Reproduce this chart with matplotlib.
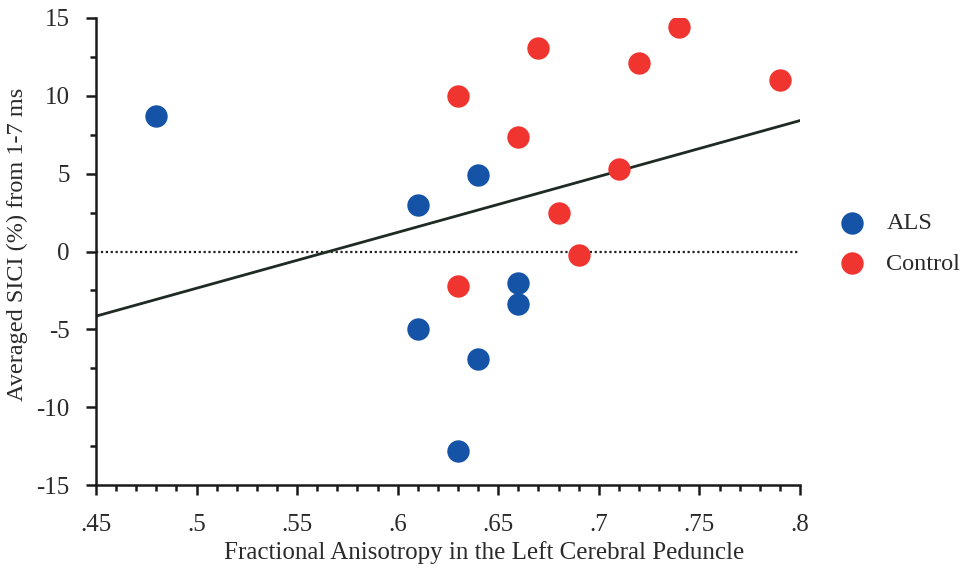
import numpy as np
import matplotlib.pyplot as plt
from matplotlib.ticker import MultipleLocator, FuncFormatter

plt.rcParams["font.family"] = ["Liberation Serif", "DejaVu Serif"]
plt.rcParams["axes.unicode_minus"] = False

# fractional anisotropy vs averaged SICI
als_fa = [0.48, 0.61, 0.64, 0.61, 0.64, 0.66, 0.66, 0.63]
als_sici = [8.7, 3.0, 4.9, -5.0, -6.9, -2.0, -3.4, -12.8]
ctrl_fa = [0.63, 0.67, 0.66, 0.74, 0.72, 0.79, 0.71, 0.68, 0.69, 0.63]
ctrl_sici = [10.0, 13.1, 7.35, 14.4, 12.1, 11.0, 5.3, 2.5, -0.2, -2.2]

x_ticks = [0.45, 0.5, 0.55, 0.6, 0.65, 0.7, 0.75, 0.8]
y_ticks = [-15, -10, -5, 0, 5, 10, 15]

fig = plt.figure(figsize=(9.68, 5.75), dpi=100)
ax = fig.add_axes([0.0992, 0.1565, 0.7272, 0.8122])

# regression over both groups
all_x = np.array(als_fa + ctrl_fa)
all_y = np.array(als_sici + ctrl_sici)
slope, icpt = np.polyfit(all_x, all_y, 1)
xx = np.array([0.45, 0.8])
ax.plot(xx, slope * xx + icpt, color="#1e2a22", lw=2, zorder=2)

ax.axhline(0, color="#222222", lw=1.6, ls=(0, (1, 1.2)), zorder=1)

ax.scatter(als_fa, als_sici, s=260, color="#1553a6", label="ALS", zorder=3, linewidths=0)
ax.scatter(ctrl_fa, ctrl_sici, s=260, color="#f03430", label="Control", zorder=3, linewidths=0)

ax.set_xlim(0.45, 0.8)
ax.set_ylim(-15, 15)
ax.set_xticks(x_ticks)
ax.set_yticks(y_ticks)
ax.xaxis.set_minor_locator(MultipleLocator(0.01))
ax.yaxis.set_minor_locator(MultipleLocator(2.5))
ax.xaxis.set_major_formatter(FuncFormatter(lambda v, p: ("%g" % round(v, 2)).lstrip("0")))

for side in ["top", "right"]:
    ax.spines[side].set_visible(False)
for side in ["left", "bottom"]:
    ax.spines[side].set_linewidth(1.8)
    ax.spines[side].set_color("#1a1a1a")

ax.tick_params(which="major", direction="out", length=7, width=1.8, color="#1a1a1a",
               labelsize=18, labelcolor="#2a2a2a")
ax.tick_params(which="minor", direction="out", length=4, width=1.8, color="#1a1a1a")
ax.tick_params(axis="x", which="major", pad=14)
ax.tick_params(axis="y", which="major", pad=12)

ax.set_xlabel("Fractional Anisotropy in the Left Cerebral Peduncle", fontsize=18, color="#2a2a2a")
ax.set_ylabel("Averaged SICI (%) from 1-7 ms", fontsize=17.5, color="#2a2a2a")
ax.xaxis.set_label_coords(0.552, -0.12)
ax.yaxis.set_label_coords(-0.097, 0.515)

ax.legend(loc="center left", bbox_to_anchor=(1.009, 0.517), frameon=False, fontsize=17.5,
          handletextpad=0.4, labelspacing=0.75, markerscale=1.0, labelcolor="#2a2a2a")

fig.savefig("out.png", dpi=100)
